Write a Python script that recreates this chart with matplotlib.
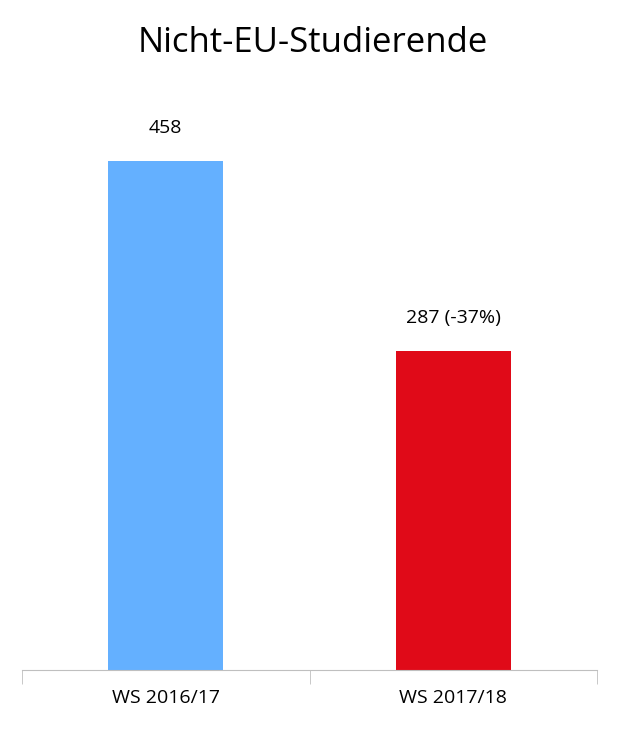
import matplotlib.pyplot as plt
from matplotlib.ticker import FixedLocator

categories = ['WS 2016/17', 'WS 2017/18']
values = [458, 287]
labels = ['458', '287 (-37%)']
colors = ['#64B0FF', '#E00A18']

plt.rcParams['font.family'] = ['Open Sans', 'DejaVu Sans']

fig = plt.figure(figsize=(6.25, 7.33), dpi=100)
ax = fig.add_axes([0.0352, 0.086, 0.92, 0.7776])

x = range(len(categories))
bars = ax.bar(x, values, width=0.4, color=colors)
for b, lab in zip(bars, labels):
    ax.text(b.get_x() + b.get_width() / 2, b.get_height() + 22, lab,
            ha='center', va='bottom', fontsize=14)

ax.set_xlim(-0.5, 1.5)
ax.set_ylim(0, 513)
ax.set_xticks(list(x))
ax.set_xticklabels(categories, fontsize=14)
ax.tick_params(axis='x', which='major', length=0, pad=14)
ax.xaxis.set_minor_locator(FixedLocator([-0.5, 0.5, 1.5]))
ax.tick_params(axis='x', which='minor', length=10, color='#BFBFBF')
ax.set_yticks([])
for s in ['top', 'right', 'left']:
    ax.spines[s].set_visible(False)
ax.spines['bottom'].set_color('#BFBFBF')

fig.suptitle('Nicht-EU-Studierende', fontsize=25, y=0.965)

fig.savefig('out.png', dpi=100)
